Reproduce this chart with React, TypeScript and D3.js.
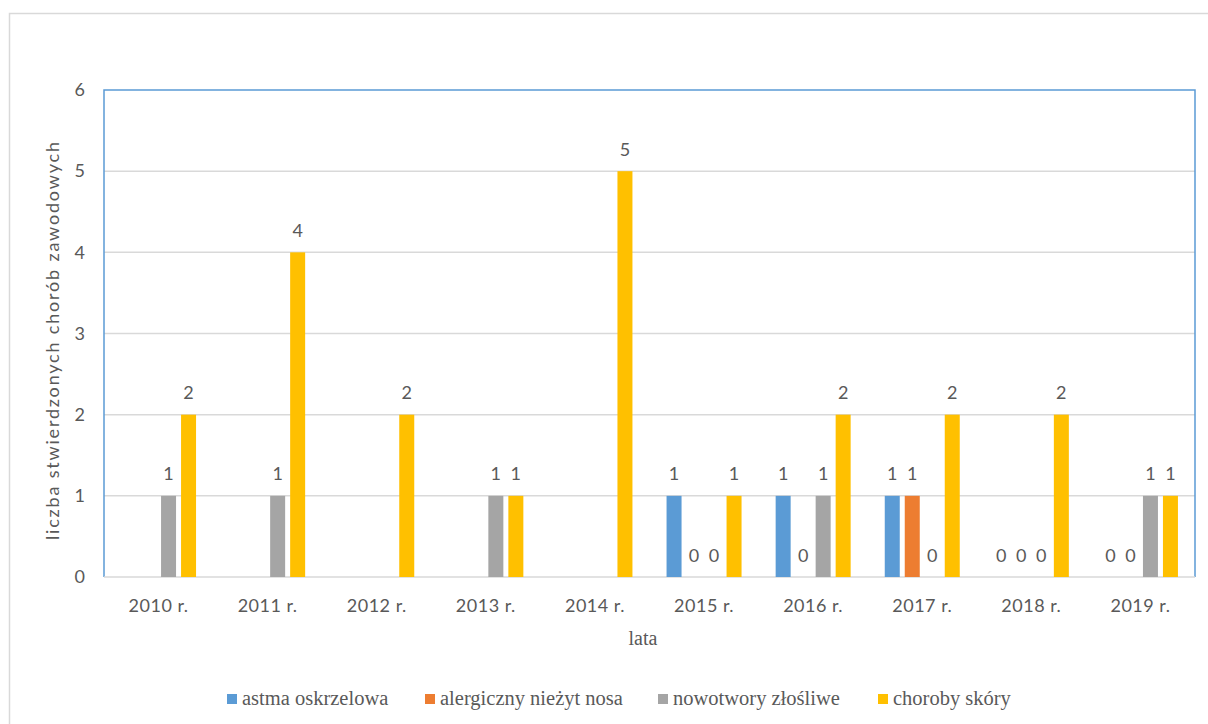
import React from "react";
import * as d3 from "d3";

const years = ["2010 r.", "2011 r.", "2012 r.", "2013 r.", "2014 r.", "2015 r.", "2016 r.", "2017 r.", "2018 r.", "2019 r."];
const seriesNames = ["astma oskrzelowa", "alergiczny nieżyt nosa", "nowotwory złośliwe", "choroby skóry"];
const seriesColors = ["#5b9bd5", "#ed7d31", "#a5a5a5", "#ffc000"];
const astma: (number | null)[] = [null, null, null, null, null, 1, 1, 1, 0, 0];
const alergia: (number | null)[] = [null, null, null, null, null, 0, 0, 1, 0, 0];
const nowotwory: (number | null)[] = [1, 1, null, 1, null, 0, 1, 0, 0, 1];
const skora: (number | null)[] = [2, 4, 2, 1, 5, 1, 2, 2, 2, 1];
const yTicks = [0, 1, 2, 3, 4, 5, 6];

const seriesValues = [astma, alergia, nowotwory, skora];

const W = 1208;
const H = 724;
const plot = { left: 104, right: 1195, top: 90, bottom: 577 };
const sans = "Lato, 'Open Sans', sans-serif";
const serif = "'Liberation Serif', Tinos, 'Noto Serif', FreeSerif, 'DejaVu Serif', Georgia, 'Times New Roman', Times, serif";
const textColor = "#595959";

export default function App() {
  const x = d3.scaleBand<string>().domain(years).range([plot.left, plot.right]).padding(0);
  const y = d3.scaleLinear().domain([0, 6]).range([plot.bottom, plot.top]);
  const inner = d3
    .scaleBand<number>()
    .domain([0, 1, 2, 3])
    .range([-40, 40])
    .paddingInner(0.25)
    .paddingOuter(0.125);
  const bw = inner.bandwidth();

  const legendX = [227, 425, 658, 878];

  return (
    <div style={{ position: "absolute", left: 0, top: 0 }}>
      <svg width={W} height={H} style={{ display: "block" }}>
        <rect x={0} y={0} width={W} height={H} fill="#fff" />
        <rect x={9.5} y={13.5} width={W + 20} height={H + 20} fill="none" stroke="#d9d9d9" strokeWidth={1.5} />
        {yTicks.map((t) => (
          <g key={t}>
            {t > 0 && t < 6 && (
              <line x1={plot.left} x2={plot.right} y1={y(t)} y2={y(t)} stroke="#d9d9d9" strokeWidth={1.5} />
            )}
            <text x={85} y={y(t)} dy="0.35em" textAnchor="end" style={{ fontFamily: sans, fontSize: 18 }} fill={textColor}>
              {t}
            </text>
          </g>
        ))}
        <path
          d={`M${plot.left},${plot.bottom} V${plot.top} H${plot.right} V${plot.bottom}`}
          fill="none"
          stroke="#5b9bd5"
          strokeWidth={1.5}
        />
        <line x1={plot.left} x2={plot.right} y1={plot.bottom} y2={plot.bottom} stroke="#d9d9d9" strokeWidth={1.5} />
        {seriesValues.map((vals, si) =>
          vals.map((v, i) => {
            if (v === null) return null;
            const cx = (x(years[i]) as number) + x.bandwidth() / 2;
            const bx = cx + (inner(si) as number);
            return (
              <g key={`${si}-${i}`}>
                {v > 0 && (
                  <rect x={bx} y={y(v)} width={bw} height={y(0) - y(v)} fill={seriesColors[si]} />
                )}
                <text
                  x={bx + bw / 2}
                  y={y(v) - 15.5}
                  textAnchor="middle"
                  style={{ fontFamily: sans, fontSize: 18 }}
                  fill={textColor}
                >
                  {v}
                </text>
              </g>
            );
          })
        )}
        {years.map((yr) => (
          <text
            key={yr}
            x={(x(yr) as number) + x.bandwidth() / 2}
            y={611.5}
            textAnchor="middle"
            style={{ fontFamily: sans, fontSize: 18, letterSpacing: "0.5px" }}
            fill={textColor}
          >
            {yr}
          </text>
        ))}
        <text x={643} y={645} textAnchor="middle" style={{ fontFamily: serif, fontSize: 20 }} fill={textColor}>
          lata
        </text>
        <text
          transform={`translate(59,341) rotate(-90)`}
          textAnchor="middle"
          style={{ fontFamily: sans, fontSize: 18 }}
          textLength={398}
          lengthAdjust="spacing"
          fill={textColor}
        >
          liczba stwierdzonych chorób zawodowych
        </text>
        {seriesNames.map((n, i) => (
          <g key={n}>
            <rect x={legendX[i]} y={694} width={10} height={10} fill={seriesColors[i]} />
            <text x={legendX[i] + 15} y={705} style={{ fontFamily: serif, fontSize: 20.5 }} fill={textColor}>
              {n}
            </text>
          </g>
        ))}
      </svg>
    </div>
  );
}
